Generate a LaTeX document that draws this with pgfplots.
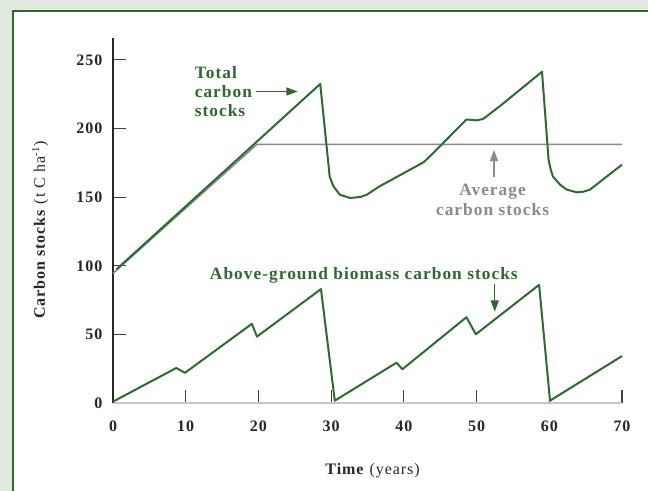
\documentclass[border=0pt]{standalone}
\usepackage{fontspec}
\setmainfont{Liberation Serif}[LetterSpace=6]
\usepackage{pgfplots}
\pgfplotsset{compat=1.18}
\usetikzlibrary{arrows.meta}
\definecolor{bggray}{HTML}{E2E7DF}
\definecolor{dkgreen}{HTML}{2E6A30}
\definecolor{avggray}{HTML}{8A8A8A}

\begin{document}
\begin{tikzpicture}
\useasboundingbox (-84.75pt,-66pt) rectangle (401.25pt,302.25pt);
\fill[bggray] (-84.75pt,-66pt) rectangle (401.25pt,302.25pt);
\begin{scope}
  \clip (-84.75pt,-66pt) rectangle (401.25pt,302.25pt);
  \filldraw[fill=white,draw=dkgreen,line width=1pt] (-75pt,-90pt) rectangle (430pt,294pt);
\end{scope}
\begin{axis}[
  at={(0,0)}, anchor=south west,
  scale only axis, width=381.75pt, height=273.75pt,
  xmin=0, xmax=70, ymin=0, ymax=266,
  axis x line*=bottom, axis y line*=left,
  x axis line style={draw=gray!45, line width=0.8pt},
  y axis line style={draw=black!85, line width=0.8pt},
  xtick={10,20,...,70}, ytick={0,50,...,250},
  extra x ticks={0}, extra x tick style={major tick length=0pt},
  tick align=inside, major tick length=9.75pt,
  tick style={draw=black!75, line width=0.8pt},
  /pgf/number format/assume math mode=true,
  tick label style={font=\fontsize{12}{14}\selectfont\bfseries, text=black!85},
  xticklabel style={yshift=-10pt},
  yticklabel style={xshift=-4.5pt},
  xlabel={\textbf{Time} (years)},
  ylabel={\textbf{Carbon stocks} (t C ha\textsuperscript{-1})},
  xlabel style={font=\fontsize{12}{14}\selectfont, text=black!85,
    at={(axis description cs:0.51,-0.186)}, anchor=center},
  ylabel style={font=\fontsize{12}{14}\selectfont, text=black!85,
    at={(axis description cs:-0.143,0.474)}, anchor=center},
  clip=false
]

% average carbon stocks
\addplot[avggray, line width=1.2pt] coordinates {
  (0,94.5) (19.8,188.5) (70,188.5)
};

% total carbon stocks
\addplot[dkgreen, line width=1.5pt, line join=round] coordinates {
  (0.5,97.5) (28.5,232.5) (29.8,165) (30.3,158) (31.2,151.8) (32.6,149.4)
  (34.0,150.1) (34.9,151.8) (36.7,158) (42.7,175.4) (43.6,179.8) (48.6,206.6)
  (50,206) (50.9,207) (53.2,216.3) (59.0,241.4) (59.9,177.4)
  (60.2,170) (60.5,165) (61.5,159) (62.4,155.5) (63.8,153.5) (64.7,154)
  (65.6,155.5) (70,173.7)
};

% above-ground biomass carbon stocks
\addplot[dkgreen, line width=1.5pt, line join=round] coordinates {
  (0,1) (8.7,25.5) (9.9,22) (19.1,57.7) (19.8,48.4) (28.6,83)
  (30.5,1.7) (39.0,29.4) (39.8,24.6) (48.6,62.5) (49.9,50.1)
  (58.6,86.1) (60.1,1.7) (70,34.2)
};

% annotations
\node[anchor=west, align=left, text=dkgreen,
  font=\fontsize{13}{14.5}\selectfont\bfseries]
  at (axis cs:10.6,227) {Total\\carbon\\stocks};
\draw[dkgreen, line width=1pt, -{Triangle[length=8.5pt,width=6pt]}]
  (axis cs:19.6,227) -- (axis cs:25.4,227);

\node[align=center, text=avggray,
  font=\fontsize{13}{14.5}\selectfont\bfseries]
  at (axis cs:52.2,148) {Average\\carbon stocks};
\draw[avggray, line width=1pt, -{Triangle[length=8.5pt,width=6pt]}]
  (axis cs:52.4,165) -- (axis cs:52.4,184.5);

\node[text=dkgreen, font=\fontsize{13}{14.5}\selectfont\bfseries]
  at (axis cs:34.5,92.7) {Above-ground biomass carbon stocks};
\draw[dkgreen, line width=1pt, -{Triangle[length=8.5pt,width=6pt]}]
  (axis cs:52.5,86.5) -- (axis cs:52.5,66.5);

\end{axis}
\end{tikzpicture}
\end{document}
